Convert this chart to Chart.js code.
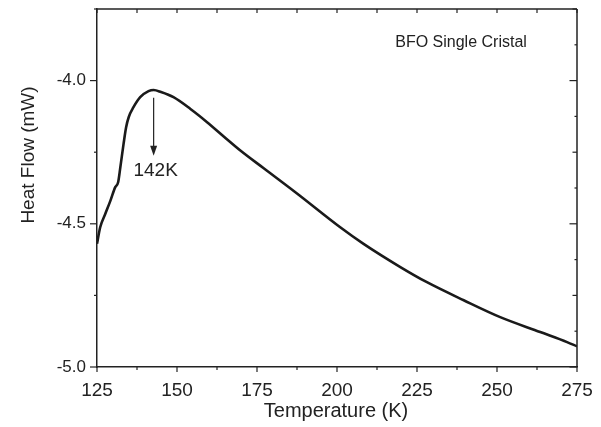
<!DOCTYPE html>
<html>
<head>
<meta charset="utf-8">
<script src="https://cdn.jsdelivr.net/npm/chart.js@4/dist/chart.umd.min.js"></script>
<style>
  html, body { margin: 0; padding: 0; background: #fff; }
  #wrap { width: 601px; height: 427px; }
</style>
</head>
<body>
<div id="wrap"><canvas id="dsc" width="601" height="427"></canvas></div>
<script>
(function() {
  'use strict';

  // temperature (K) and heat flow (mW)
  var temps = [125, 126.0, 127.6, 129.2, 130.7, 131.6, 132.3, 133.3, 134.1, 134.9, 136.4, 138.5,
    141.1, 142.7, 145.0, 148.9, 154.2, 159.4, 164.6, 169.8, 177.1, 187.5, 201.0,
    208.3, 219.8, 228.1, 239.6, 251.0, 263.5, 271.9, 275];
  var heatFlow = [-4.570, -4.512, -4.465, -4.419, -4.372, -4.355, -4.302, -4.221, -4.163, -4.128, -4.093, -4.058,
    -4.037, -4.033, -4.040, -4.058, -4.099, -4.145, -4.195, -4.244, -4.306, -4.394, -4.512,
    -4.570, -4.651, -4.704, -4.767, -4.826, -4.878, -4.913, -4.928];

  var xTicks = [125, 150, 175, 200, 225, 250, 275];
  var yTicks = [-5.0, -4.5, -4.0];

  var peakT = 142.7;
  var peakLabel = '142K';
  var sampleLabel = 'BFO Single Cristal';
  var xTitle = 'Temperature (K)';
  var yTitle = 'Heat Flow (mW)';

  var ink = '#222';
  var fontFam = "'Liberation Sans', Arial, sans-serif";

  var points = [];
  for (var i = 0; i < temps.length; i++) points.push({ x: temps[i], y: heatFlow[i] });

  function line(ctx, x1, y1, x2, y2) {
    ctx.beginPath();
    ctx.moveTo(x1, y1);
    ctx.lineTo(x2, y2);
    ctx.stroke();
  }

  function noPad(s) {
    s.paddingTop = 0;
    s.paddingBottom = 0;
    s.paddingLeft = 0;
    s.paddingRight = 0;
  }

  var decor = {
    id: 'decor',
    afterDraw: function(chart) {
      var ctx = chart.ctx;
      var a = chart.chartArea;
      var xs = chart.scales.x;
      var ys = chart.scales.y;
      ctx.save();
      ctx.strokeStyle = ink;
      ctx.fillStyle = ink;
      ctx.lineWidth = 1.5;

      // top and right frame
      line(ctx, a.left, a.top, a.right, a.top);
      line(ctx, a.right, a.top, a.right, a.bottom);

      // x ticks: bottom outward, top inward
      ctx.lineWidth = 1.2;
      for (var t = 125; t <= 275.01; t += 12.5) {
        var px = xs.getPixelForValue(t);
        var major = Math.abs((t - 125) % 25) < 0.01;
        line(ctx, px, a.bottom, px, a.bottom + (major ? 5 : 3));
        line(ctx, px, a.top, px, a.top + 4);
      }
      // y ticks: left outward, right inward
      for (var k = 0; k <= 10; k++) {
        var v = -5 + k * 0.125;
        var py = ys.getPixelForValue(v);
        var lvl = k % 4 === 0 ? 2 : (k % 2 === 0 ? 1 : 0);
        if (lvl === 2) line(ctx, a.left - 7, py, a.left, py);
        else if (lvl === 1) line(ctx, a.left - 3, py, a.left, py);
        line(ctx, a.right, py, a.right - (lvl === 2 ? 7.5 : (lvl === 1 ? 4.5 : 2.5)), py);
      }

      // arrow at the peak
      var ax = xs.getPixelForValue(peakT);
      var aTop = ys.getPixelForValue(-4.06);
      var aBot = ys.getPixelForValue(-4.262);
      ctx.lineWidth = 1.2;
      line(ctx, ax, aTop, ax, aBot - 8);
      ctx.beginPath();
      ctx.moveTo(ax - 3.5, aBot - 10);
      ctx.lineTo(ax + 3.5, aBot - 10);
      ctx.lineTo(ax, aBot);
      ctx.closePath();
      ctx.fill();

      ctx.font = '19px ' + fontFam;
      ctx.textAlign = 'center';
      ctx.textBaseline = 'middle';
      ctx.fillText(peakLabel, ax + 2, ys.getPixelForValue(-4.315));

      ctx.font = '16px ' + fontFam;
      ctx.textAlign = 'left';
      ctx.fillText(sampleLabel, xs.getPixelForValue(218.2), ys.getPixelForValue(-3.867));

      // axis titles
      ctx.font = '20px ' + fontFam;
      ctx.textAlign = 'center';
      ctx.fillText(xTitle, (a.left + a.right) / 2 - 1, 411);

      ctx.font = '19px ' + fontFam;
      ctx.translate(29, 155);
      ctx.rotate(-Math.PI / 2);
      ctx.fillText(yTitle, 0, 0);
      ctx.restore();
    }
  };

  new Chart(document.getElementById('dsc'), {
    type: 'line',
    data: {
      datasets: [{
        data: points,
        borderColor: '#1a1a1a',
        borderWidth: 2.6,
        pointRadius: 0,
        fill: false,
        cubicInterpolationMode: 'monotone'
      }]
    },
    options: {
      responsive: false,
      animation: false,
      layout: { padding: { left: 0, right: 24, top: 9, bottom: 0 } },
      plugins: { legend: { display: false }, tooltip: { enabled: false } },
      scales: {
        x: {
          type: 'linear',
          min: 125,
          max: 275,
          afterFit: function(s) { s.height = 60; noPad(s); },
          afterBuildTicks: function(s) { s.ticks = xTicks.map(function(v) { return { value: v }; }); },
          grid: { display: false, drawTicks: false },
          border: { display: true, color: ink, width: 1.5 },
          ticks: {
            padding: 12,
            color: ink,
            font: { family: fontFam, size: 19 },
            maxRotation: 0,
            callback: function(v) { return String(v); }
          }
        },
        y: {
          type: 'linear',
          min: -5,
          max: -3.75,
          afterFit: function(s) { s.width = 97; noPad(s); },
          afterBuildTicks: function(s) { s.ticks = yTicks.map(function(v) { return { value: v }; }); },
          grid: { display: false, drawTicks: false },
          border: { display: true, color: ink, width: 1.5 },
          ticks: {
            padding: 11,
            color: ink,
            font: { family: fontFam, size: 17 },
            callback: function(v) { return Number(v).toFixed(1); }
          }
        }
      }
    },
    plugins: [decor]
  });
})();
</script>
</body>
</html>
